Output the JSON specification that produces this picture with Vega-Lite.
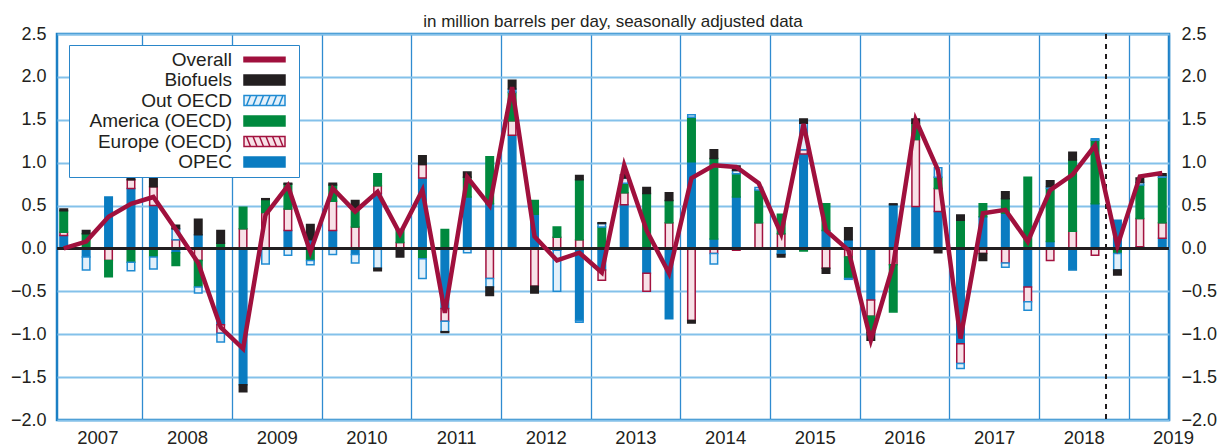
{
  "$schema": "https://vega.github.io/schema/vega-lite/v6.json",
  "autosize": "none",
  "width": 1112,
  "height": 386,
  "padding": {"left": 57, "top": 34, "right": 49, "bottom": 26},
  "background": "white",
  "title": {"text": "in million barrels per day, seasonally adjusted data", "fontSize": 17, "font": "Liberation Sans", "fontWeight": "normal", "color": "#231f20", "anchor": "middle", "offset": 5, "dy": 11},
  "config": {
    "font": "Liberation Sans",
    "view": {"stroke": "#1b7fc4", "strokeWidth": 2.5},
    "scale": {"continuousPadding": 0},
    "axis": {"labelColor": "#231f20", "labelFontSize": 18, "labelFont": "Liberation Sans"}
  },
  "data": {"values": [
    {"q": 2007.125, "OPEC": 0.15, "Europe": 0.04, "America": 0.25, "OutOECD": 0, "Biofuels": 0.02, "Overall": 0.0},
    {"q": 2007.375, "OPEC": -0.10, "Europe": 0, "America": 0.17, "OutOECD": -0.15, "Biofuels": 0.04, "Overall": 0.08},
    {"q": 2007.625, "OPEC": 0.60, "Europe": -0.14, "America": -0.19, "OutOECD": 0, "Biofuels": 0, "Overall": 0.37},
    {"q": 2007.875, "OPEC": 0.70, "Europe": 0.10, "America": -0.16, "OutOECD": -0.10, "Biofuels": 0.06, "Overall": 0.52},
    {"q": 2008.125, "OPEC": 0.50, "Europe": 0.22, "America": -0.10, "OutOECD": -0.14, "Biofuels": 0.12, "Overall": 0.60},
    {"q": 2008.375, "OPEC": -0.05, "Europe": 0.10, "America": -0.15, "OutOECD": 0.13, "Biofuels": 0.04, "Overall": 0.22},
    {"q": 2008.625, "OPEC": 0.16, "Europe": -0.14, "America": -0.31, "OutOECD": -0.07, "Biofuels": 0.18, "Overall": -0.17},
    {"q": 2008.875, "OPEC": -0.89, "Europe": -0.10, "America": 0.06, "OutOECD": -0.10, "Biofuels": 0.15, "Overall": -0.92},
    {"q": 2009.125, "OPEC": -1.59, "Europe": 0.23, "America": 0.25, "OutOECD": 0, "Biofuels": -0.08, "Overall": -1.17},
    {"q": 2009.375, "OPEC": 0, "Europe": 0.42, "America": 0.15, "OutOECD": -0.18, "Biofuels": 0.01, "Overall": 0.39},
    {"q": 2009.625, "OPEC": 0.21, "Europe": 0.25, "America": 0.29, "OutOECD": -0.08, "Biofuels": 0.01, "Overall": 0.73},
    {"q": 2009.875, "OPEC": 0.10, "Europe": 0, "America": -0.14, "OutOECD": -0.05, "Biofuels": 0.18, "Overall": -0.04},
    {"q": 2010.125, "OPEC": 0.21, "Europe": 0.34, "America": 0.19, "OutOECD": -0.07, "Biofuels": 0.02, "Overall": 0.70},
    {"q": 2010.375, "OPEC": -0.07, "Europe": 0.25, "America": 0.21, "OutOECD": -0.10, "Biofuels": 0.10, "Overall": 0.43},
    {"q": 2010.625, "OPEC": 0.64, "Europe": 0.09, "America": 0.14, "OutOECD": -0.23, "Biofuels": -0.03, "Overall": 0.66},
    {"q": 2010.875, "OPEC": 0, "Europe": 0.07, "America": 0.15, "OutOECD": 0, "Biofuels": -0.10, "Overall": 0.17},
    {"q": 2011.125, "OPEC": 0.82, "Europe": 0.16, "America": -0.12, "OutOECD": -0.23, "Biofuels": 0.10, "Overall": 0.68},
    {"q": 2011.375, "OPEC": -0.70, "Europe": -0.15, "America": 0.22, "OutOECD": -0.12, "Biofuels": -0.01, "Overall": -0.75},
    {"q": 2011.625, "OPEC": 0.60, "Europe": 0, "America": 0.23, "OutOECD": -0.05, "Biofuels": 0.06, "Overall": 0.83},
    {"q": 2011.875, "OPEC": 0.52, "Europe": -0.35, "America": 0.55, "OutOECD": -0.10, "Biofuels": -0.10, "Overall": 0.50},
    {"q": 2012.125, "OPEC": 1.32, "Europe": 0.17, "America": 0.33, "OutOECD": 0.04, "Biofuels": 0.10, "Overall": 1.88},
    {"q": 2012.375, "OPEC": 0.40, "Europe": -0.44, "America": 0.16, "OutOECD": 0, "Biofuels": -0.08, "Overall": 0.14},
    {"q": 2012.625, "OPEC": -0.02, "Europe": 0.13, "America": 0.12, "OutOECD": -0.48, "Biofuels": 0, "Overall": -0.14},
    {"q": 2012.875, "OPEC": -0.84, "Europe": 0.10, "America": 0.70, "OutOECD": -0.02, "Biofuels": 0.05, "Overall": -0.05},
    {"q": 2013.125, "OPEC": -0.25, "Europe": -0.12, "America": 0.25, "OutOECD": 0.04, "Biofuels": 0.01, "Overall": -0.28},
    {"q": 2013.375, "OPEC": 0.51, "Europe": 0.14, "America": 0.11, "OutOECD": 0.06, "Biofuels": 0.04, "Overall": 0.97},
    {"q": 2013.625, "OPEC": -0.29, "Europe": -0.21, "America": 0.64, "OutOECD": 0, "Biofuels": 0.07, "Overall": 0.21},
    {"q": 2013.875, "OPEC": -0.82, "Europe": 0.30, "America": 0.26, "OutOECD": 0, "Biofuels": 0.09, "Overall": -0.29},
    {"q": 2014.125, "OPEC": 1.01, "Europe": -0.84, "America": 0.52, "OutOECD": 0.03, "Biofuels": -0.03, "Overall": 0.82},
    {"q": 2014.375, "OPEC": 0.11, "Europe": -0.06, "America": 0.94, "OutOECD": -0.12, "Biofuels": 0.10, "Overall": 0.97},
    {"q": 2014.625, "OPEC": 0.60, "Europe": -0.02, "America": 0.27, "OutOECD": 0.04, "Biofuels": 0.05, "Overall": 0.95},
    {"q": 2014.875, "OPEC": 0, "Europe": 0.30, "America": 0.38, "OutOECD": 0.03, "Biofuels": 0, "Overall": 0.76},
    {"q": 2015.125, "OPEC": -0.06, "Europe": 0.17, "America": 0.23, "OutOECD": -0.01, "Biofuels": -0.03, "Overall": 0.17},
    {"q": 2015.375, "OPEC": 1.10, "Europe": 0.05, "America": -0.03, "OutOECD": 0.31, "Biofuels": 0.05, "Overall": 1.45},
    {"q": 2015.625, "OPEC": 0.21, "Europe": -0.23, "America": 0.31, "OutOECD": 0, "Biofuels": -0.06, "Overall": 0.21},
    {"q": 2015.875, "OPEC": 0.10, "Europe": -0.10, "America": -0.25, "OutOECD": -0.01, "Biofuels": 0.14, "Overall": -0.02},
    {"q": 2016.125, "OPEC": -0.60, "Europe": -0.19, "America": -0.19, "OutOECD": 0, "Biofuels": -0.09, "Overall": -1.07},
    {"q": 2016.375, "OPEC": 0.51, "Europe": -0.19, "America": -0.55, "OutOECD": 0, "Biofuels": 0.01, "Overall": -0.19},
    {"q": 2016.625, "OPEC": 0.49, "Europe": 0.78, "America": 0.19, "OutOECD": 0, "Biofuels": 0.05, "Overall": 1.50},
    {"q": 2016.875, "OPEC": 0.43, "Europe": 0.27, "America": 0.13, "OutOECD": 0.11, "Biofuels": -0.05, "Overall": 0.91},
    {"q": 2017.125, "OPEC": -1.11, "Europe": -0.23, "America": 0.33, "OutOECD": -0.06, "Biofuels": 0.06, "Overall": -1.05},
    {"q": 2017.375, "OPEC": 0.37, "Europe": -0.06, "America": 0.15, "OutOECD": 0, "Biofuels": -0.08, "Overall": 0.41},
    {"q": 2017.625, "OPEC": 0.41, "Europe": -0.17, "America": 0.17, "OutOECD": -0.05, "Biofuels": 0.08, "Overall": 0.45},
    {"q": 2017.875, "OPEC": -0.45, "Europe": -0.17, "America": 0.83, "OutOECD": -0.10, "Biofuels": 0, "Overall": 0.08},
    {"q": 2018.125, "OPEC": 0.08, "Europe": -0.14, "America": 0.62, "OutOECD": 0.02, "Biofuels": 0.07, "Overall": 0.68},
    {"q": 2018.375, "OPEC": -0.25, "Europe": 0.20, "America": 0.83, "OutOECD": 0, "Biofuels": 0.09, "Overall": 0.86},
    {"q": 2018.625, "OPEC": 0.52, "Europe": -0.08, "America": 0.74, "OutOECD": 0.02, "Biofuels": 0, "Overall": 1.20},
    {"q": 2018.875, "OPEC": 0.33, "Europe": -0.02, "America": -0.04, "OutOECD": -0.19, "Biofuels": -0.06, "Overall": 0.03},
    {"q": 2019.125, "OPEC": 0.02, "Europe": 0.33, "America": 0.39, "OutOECD": 0.03, "Biofuels": 0.05, "Overall": 0.84},
    {"q": 2019.375, "OPEC": 0.12, "Europe": 0.18, "America": 0.53, "OutOECD": 0.02, "Biofuels": 0.02, "Overall": 0.88}
  ]},
  "resolve": {"axis": {"y": "independent"}},
  "layer": [
    {
      "transform": [
        {"fold": ["OPEC", "Europe", "America", "OutOECD", "Biofuels"], "as": ["series", "value"]},
        {"filter": "datum.value != 0"},
        {"window": [{"op": "row_number", "as": "rank"}], "groupby": ["q"]}
      ],
      "mark": {"type": "bar", "size": 7.5, "strokeWidth": 1.5},
      "encoding": {
        "x": {"field": "q", "type": "quantitative",
          "scale": {"domain": [2007.05, 2019.45], "nice": false, "zero": false, "padding": 0},
          "axis": {"values": [2008, 2009, 2010, 2011, 2012, 2013, 2014, 2015, 2016, 2017, 2018, 2019, 2019.45],
            "title": null, "grid": true, "gridColor": "#2f8bd0", "gridWidth": 1.3, "ticks": false, "domain": false, "labelPadding": 8,
            "labelFontSize": 18.5,
            "labelExpr": "datum.value > 2019.2 ? '2019' : '' + (datum.value - 1)",
            "labelOffset": {"condition": {"test": "datum.value > 2019.2", "value": 4}, "value": -44.84},
            "labelOverlap": false, "labelFlush": false, "labelBound": false}},
        "y": {"field": "value", "type": "quantitative",
          "scale": {"domain": [-2, 2.5], "nice": false, "zero": false, "padding": 0},
          "axis": {"orient": "left", "values": [-2, -1.5, -1, -0.5, 0, 0.5, 1, 1.5, 2, 2.5], "format": ".1f",
            "title": null, "grid": true, "gridColor": "#84c1ea", "gridWidth": 2, "ticks": false, "domain": false, "labelPadding": 11}},
        "fill": {"field": "series", "type": "nominal",
          "scale": {"domain": ["Overall", "Biofuels", "OutOECD", "America", "Europe", "OPEC"],
                    "range": ["#a0103d", "#231f20", "#e3f0fa", "#00893e", "#f7e1e7", "#0a7cc1"]},
          "legend": {
            "orient": "none", "legendX": 12, "legendY": 11, "title": null,
            "labelFontSize": 19, "labelColor": "#231f20", "labelAlign": "right",
            "labelOffset": -42, "symbolOffset": 181, "symbolSize": 100, "symbolStrokeWidth": 1.5,
            "rowPadding": 0.5, "padding": 5, "strokeColor": "#2a86c9", "fillColor": "white", "labelLimit": 300,
            "labelExpr": "datum.label === 'OutOECD' ? 'Out OECD' : datum.label === 'America' ? 'America (OECD)' : datum.label === 'Europe' ? 'Europe (OECD)' : datum.label",
            "encode": {"symbols": {"update": {
              "shape": {"signal": "datum.value === 'Overall' ? 'M-4.1,-0.45H4.1V0.45H-4.1Z M5.25,0' : datum.value === 'OutOECD' ? 'M-4.1,-1H4.1V1H-4.1Z M-3.6,1L-2.8,-1 M-2.3,1L-1.5,-1 M-1,1L-0.2,-1 M0.3,1L1.1,-1 M1.6,1L2.4,-1 M2.9,1L3.7,-1 M5.25,0' : datum.value === 'Europe' ? 'M-4.1,-1H4.1V1H-4.1Z M-3.6,-1L-2.8,1 M-2.3,-1L-1.5,1 M-1,-1L-0.2,1 M0.3,-1L1.1,1 M1.6,-1L2.4,1 M2.9,-1L3.7,1 M5.25,0' : 'M-4.1,-1H4.1V1H-4.1Z M5.25,0'"},
              "fill": {"signal": "datum.value === 'OutOECD' || datum.value === 'Europe' ? 'white' : scale('fill', datum.value)"},
              "stroke": {"signal": "datum.value === 'OutOECD' ? '#1f8bd2' : datum.value === 'Europe' ? '#a2123f' : 'transparent'"},
              "strokeWidth": {"value": 1.5}
            }}}
          }},
        "stroke": {"field": "series", "type": "nominal",
          "scale": {"domain": ["Overall", "Biofuels", "OutOECD", "America", "Europe", "OPEC"],
                    "range": ["#a0103d", "#231f20", "#1f8bd2", "#00893e", "#a2123f", "#0a7cc1"]},
          "legend": null},
        "order": {"field": "rank", "type": "quantitative"}
      }
    },
    {
      "mark": {"type": "rule", "color": "#231f20", "strokeWidth": 2.5},
      "encoding": {"y": {"datum": 0, "type": "quantitative", "scale": {"domain": [-2, 2.5], "nice": false, "zero": false, "padding": 0}, "axis": null}}
    },
    {
      "mark": {"type": "rule", "color": "#231f20", "strokeWidth": 1.5, "strokeDash": [5, 5]},
      "encoding": {"x": {"datum": 2018.75, "type": "quantitative",
          "scale": {"domain": [2007.05, 2019.45], "nice": false, "zero": false, "padding": 0},
          "axis": {"values": [2008, 2009, 2010, 2011, 2012, 2013, 2014, 2015, 2016, 2017, 2018, 2019, 2019.45],
            "title": null, "grid": true, "gridColor": "#2f8bd0", "gridWidth": 1.3, "ticks": false, "domain": false, "labelPadding": 8,
            "labelFontSize": 18.5,
            "labelExpr": "datum.value > 2019.2 ? '2019' : '' + (datum.value - 1)",
            "labelOffset": {"condition": {"test": "datum.value > 2019.2", "value": 4}, "value": -44.84},
            "labelOverlap": false, "labelFlush": false, "labelBound": false}}}
    },
    {
      "mark": {"type": "line", "color": "#a0103d", "strokeWidth": 4.5, "strokeJoin": "miter"},
      "encoding": {
        "x": {"field": "q", "type": "quantitative",
          "scale": {"domain": [2007.05, 2019.45], "nice": false, "zero": false, "padding": 0},
          "axis": {"values": [2008, 2009, 2010, 2011, 2012, 2013, 2014, 2015, 2016, 2017, 2018, 2019, 2019.45],
            "title": null, "grid": true, "gridColor": "#2f8bd0", "gridWidth": 1.3, "ticks": false, "domain": false, "labelPadding": 8,
            "labelFontSize": 18.5,
            "labelExpr": "datum.value > 2019.2 ? '2019' : '' + (datum.value - 1)",
            "labelOffset": {"condition": {"test": "datum.value > 2019.2", "value": 4}, "value": -44.84},
            "labelOverlap": false, "labelFlush": false, "labelBound": false}},
        "y": {"field": "Overall", "type": "quantitative",
          "scale": {"domain": [-2, 2.5], "nice": false, "zero": false, "padding": 0},
          "axis": {"orient": "right", "values": [-2, -1.5, -1, -0.5, 0, 0.5, 1, 1.5, 2, 2.5], "format": ".1f",
            "title": null, "grid": false, "ticks": false, "domain": false, "labelPadding": 12}}
      }
    }
  ]
}
